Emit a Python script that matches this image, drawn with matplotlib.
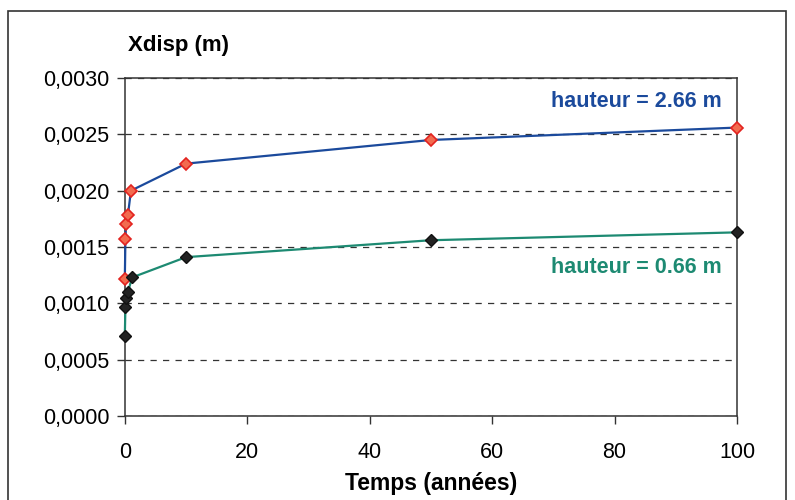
import matplotlib.pyplot as plt
from matplotlib.ticker import FuncFormatter

# temps (années) et déplacement Xdisp (m)
temps = [0, 0.1, 0.2, 0.5, 1, 10, 50, 100]
xdisp_266 = [0.00122, 0.00157, 0.00170, 0.00178, 0.00200, 0.00224, 0.00245, 0.00256]
xdisp_066 = [0.00071, 0.00097, 0.00105, 0.00110, 0.00123, 0.00141, 0.00156, 0.00163]
temps_066 = [0, 0.1, 0.2, 0.5, 1.2, 10, 50, 100]
yticks = [0, 0.0005, 0.0010, 0.0015, 0.0020, 0.0025, 0.0030]
xticks = [0, 20, 40, 60, 80, 100]

plt.rcParams['font.family'] = ['Liberation Sans', 'DejaVu Sans']

fig = plt.figure(figsize=(7.95, 5), dpi=100)
ax = fig.add_axes([0.157, 0.168, 0.770, 0.676])

# cadre autour du graphique
fig.patches.append(plt.Rectangle((0.010, -0.01), 0.979, 0.988, transform=fig.transFigure,
                                 fill=False, edgecolor='#333333', linewidth=1.2))

ax.plot(temps, xdisp_266, color='#1b4a9c', linewidth=1.6, marker='D', markersize=6,
        markerfacecolor='#f26b4f', markeredgecolor='#e3231f', markeredgewidth=1.2,
        zorder=3, clip_on=False)
ax.plot(temps_066, xdisp_066, color='#1d8a72', linewidth=1.6, marker='D', markersize=6,
        markerfacecolor='#222222', markeredgecolor='#111111', zorder=3, clip_on=False)

ax.set_xlim(0, 100)
ax.set_ylim(0, 0.003)
ax.set_xticks(xticks)
ax.set_yticks(yticks)
ax.yaxis.set_major_formatter(FuncFormatter(lambda v, p: f"{v:.4f}".replace('.', ',')))
ax.tick_params(axis='both', labelsize=15.5, direction='out', length=6, width=1, color='#333333')
ax.tick_params(axis='x', pad=13)
ax.tick_params(axis='y', pad=5)

ax.grid(axis='y', linestyle=(0, (5, 5)), color='#333333', linewidth=0.9)
for s in ax.spines.values():
    s.set_color('#333333')
    s.set_linewidth(1.1)

ax.set_xlabel("Temps (années)", fontsize=16.5, fontweight='bold', labelpad=6)
fig.text(0.161, 0.908, "Xdisp (m)", fontsize=16, fontweight='bold', ha='left', va='center')

ax.text(97.5, 0.00279, "hauteur = 2.66 m", color='#1b4a9c', fontsize=15.5, fontweight='bold',
        ha='right', va='center')
ax.text(97.5, 0.00132, "hauteur = 0.66 m", color='#1d8a72', fontsize=15.5, fontweight='bold',
        ha='right', va='center')

fig.savefig("out.png", dpi=100)
